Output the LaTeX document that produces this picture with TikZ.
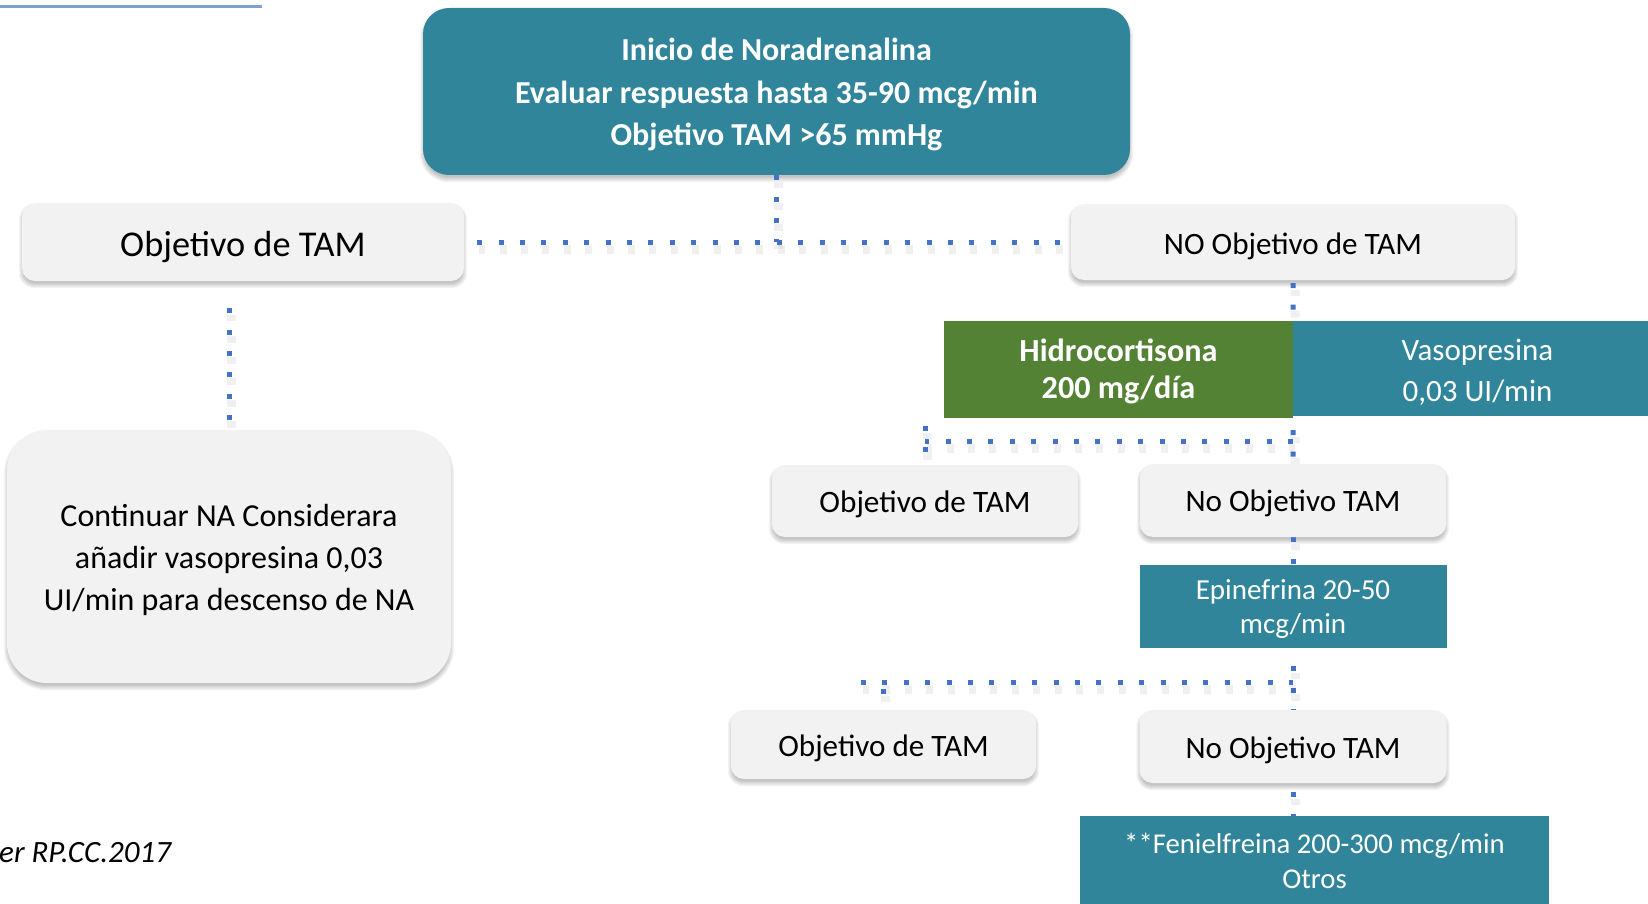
\documentclass[tikz,border=0pt]{standalone}
\usepackage{fontspec}
\setmainfont{Carlito}
\usetikzlibrary{backgrounds,calc}

\definecolor{tealbox}{RGB}{49,133,155}
\definecolor{greenbox}{RGB}{84,130,53}
\definecolor{graybox}{RGB}{242,242,242}
\definecolor{dotblue}{RGB}{68,114,196}
\definecolor{rulecol}{RGB}{125,160,205}

% invisible struts that place the text lines inside their boxes
\newcommand\bxfirst[1]{\rule{0pt}{#1pt}}
\newcommand\bxlast{\rule[-10pt]{0pt}{10pt}}
\newcommand\bxone[1]{\rule[-10pt]{0pt}{\dimexpr#1pt+10pt\relax}}

% soft shadow under a rounded box: name, corner radius
\newcommand\softshadow[2]{%
  \foreach \e [evaluate=\e as \r using #2+\e] in {-2,...,3}{%
    \fill[black,opacity=0.045,rounded corners=\r pt]
      ([xshift={-1pt*(\e)}, yshift={1pt*(\e)-4pt}]#1.north west) rectangle
      ([xshift={1pt*(\e)}, yshift={-1pt*(\e)-4pt}]#1.south east);
  }%
}

\tikzset{
  graynode/.style={fill=graybox, rounded corners=13pt, text=black, inner sep=0pt, align=center},
  tealnode/.style={fill=tealbox, text=white, inner sep=0pt, align=center},
  greennode/.style={fill=greenbox, text=white, inner sep=0pt, align=center},
  link/.style={draw=dotblue, line width=5pt, dash pattern=on 5pt off 16.4pt,
    preaction={draw=black, draw opacity=0.06, line width=9pt,
      dash pattern=on 7pt off 14.4pt, dash phase=1pt,
      transform canvas={xshift=2pt,yshift=-7pt}}},
}

\begin{document}
\begin{tikzpicture}[x=1pt,y=-1pt]
\useasboundingbox (0,0) rectangle (1648,904);

% thin rule at the top edge
\draw[rulecol, line width=2.2pt] (0,6.5) -- (262,6.5);

% boxes
\node[tealnode, rounded corners=26pt, minimum width=707pt, minimum height=167pt,
      font=\fontsize{32}{42.3}\selectfont\bfseries] (top) at (776.5,91.5)
  {\bxfirst{33.6}Inicio de Noradrenalina\\Evaluar respuesta hasta 35-90 mcg/min\\Objetivo TAM >65 mmHg\bxlast};

\node[graynode, minimum width=442pt, minimum height=78pt,
      font=\fontsize{36.3}{42}\selectfont] (objL) at (243,242)
  {\bxone{39.4}Objetivo de TAM};

\node[graynode, minimum width=444pt, minimum height=76pt,
      font=\fontsize{31.1}{36}\selectfont] (objR) at (1293,242)
  {\bxone{34}NO Objetivo de TAM};

\node[graynode, rounded corners=40pt, minimum width=444pt, minimum height=253pt,
      font=\fontsize{32}{42.3}\selectfont] (cont) at (229,556.5)
  {\bxfirst{33.6}Continuar NA Considerara\\a\~nadir vasopresina 0,03\\UI/min para descenso de NA\bxlast};

\node[greennode, minimum width=349pt, minimum height=97pt,
      font=\fontsize{32.2}{37.3}\selectfont\bfseries] (hidro) at (1118.5,369.5)
  {\bxfirst{30.3}Hidrocortisona\\200 mg/día\bxlast};

\node[tealnode, minimum width=369pt, minimum height=95pt,
      font=\fontsize{31}{41.7}\selectfont] (vaso) at (1477.5,368.5)
  {\bxfirst{34.7}Vasopresina\\0,03 UI/min\bxlast};

\node[graynode, minimum width=306pt, minimum height=72pt,
      font=\fontsize{31.2}{36}\selectfont] (obj2) at (925,501)
  {\bxone{33.4}Objetivo de TAM};

\node[graynode, minimum width=306pt, minimum height=73pt,
      font=\fontsize{31.1}{36}\selectfont] (noobj2) at (1293,500.5)
  {\bxone{32.4}No Objetivo TAM};

\node[tealnode, minimum width=307pt, minimum height=83pt,
      font=\fontsize{29}{34}\selectfont] (epi) at (1293,606.5)
  {\bxfirst{29}Epinefrina 20-50\\mcg/min\bxlast};

\node[graynode, minimum width=305pt, minimum height=69pt,
      font=\fontsize{31.1}{36}\selectfont] (obj3) at (883.5,744.5)
  {\bxone{33}Objetivo de TAM};

\node[graynode, minimum width=307pt, minimum height=73pt,
      font=\fontsize{31.1}{36}\selectfont] (noobj3) at (1293,746.5)
  {\bxone{33.6}No Objetivo TAM};

\node[tealnode, minimum width=469pt, minimum height=94pt,
      font=\fontsize{28.7}{35}\selectfont] (fen) at (1314.5,863)
  {\bxfirst{25}**Fenielfreina 200-300 mcg/min\\Otros\bxlast};

\node[anchor=base west, inner sep=0pt, font=\fontsize{31}{36}\selectfont\itshape] (cite) at (-1,862)
  {er RP.CC.2017};

% shadows and dotted connectors behind the boxes
\begin{scope}[on background layer]
  \softshadow{top}{26}
  \softshadow{objL}{13}
  \softshadow{objR}{13}
  \softshadow{cont}{40}
  \softshadow{obj2}{13}
  \softshadow{noobj2}{13}
  \softshadow{obj3}{13}
  \softshadow{noobj3}{13}

  \coordinate (j0) at (top.south |- objL.east);
  \coordinate (j1) at (1293,441);
  \coordinate (s1) at (925,426);
  \coordinate (j2) at (1293,682);
  \coordinate (s2) at (861,682);

  \draw[link] (top.south) -- (j0);
  \draw[link, shorten <=13pt] (objL.east) -- (objR.west);
  \draw[link, shorten <=27pt] (cont.north |- objL.south) -- (cont.north);
  \draw[link, shorten <=3pt] (objR.south) -- (hidro.north east);
  \draw[link, shorten <=12pt] (hidro.south east) -- (noobj2.north);
  \draw[link] (j1) -- (j1 -| obj2.north);
  \draw[link] (s1) -- (obj2.north);
  \draw[link] (noobj2.south) -- (epi.north);
  \draw[link, shorten <=18pt] (epi.south) -- (noobj3.north);
  \draw[link] (s2) -- (j2);
  \draw[link, shorten <=7pt] (obj3.north |- j2) -- (obj3.north);
  \draw[link, shorten <=9pt] (noobj3.south) -- (noobj3.south |- fen.north);
\end{scope}
\end{tikzpicture}
\end{document}
